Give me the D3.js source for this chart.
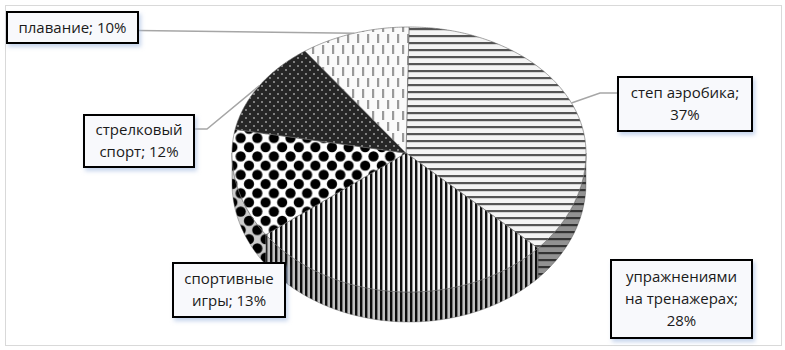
<!DOCTYPE html>
<html>
<head>
<meta charset="utf-8">
<script src="https://cdn.jsdelivr.net/npm/d3@7"></script>
<style>
  body { margin: 0; background: #fff; }
  svg { display: block; }
  text { font-family: "Open Sans", "Noto Sans", sans-serif; font-size: 15px; fill: #1a1a1a; }
</style>
</head>
<body>
<svg width="785" height="350"></svg>
<script>
// данные диаграммы
const categories = ["степ аэробика", "упражнениями на тренажерах", "спортивные игры", "стрелковый спорт", "плавание"];
const values = [37, 28, 13, 12, 10];
const labelLines = [
    ["степ аэробика;", "37%"],
    ["упражнениями", "на тренажерах;", "28%"],
    ["спортивные", "игры; 13%"],
    ["стрелковый", "спорт; 12%"],
    ["плавание; 10%"]
];
const patternIds = ["hstripe", "vstripe", "diamond", "darkdots", "dashes"];

// раскладка подписей (рамка и выноска)
const labelBoxes = [
    { x: 618, y: 77, w: 134, h: 54, leader: true },
    { x: 611, y: 260, w: 141, h: 78, leader: false },
    { x: 173, y: 263, w: 112, h: 54, leader: false },
    { x: 84, y: 115, w: 110, h: 52, leader: true },
    { x: 7, y: 12, w: 131, h: 31, leader: true }
];

const svg = d3.select("svg");
const depth = 30;

// шкалы проекции эллипса
const scX = d3.scaleLinear().domain([-1, 1]).range([232, 586]);
const scY = d3.scaleLinear().domain([-1, 0, 1]).range([27, 153, 292]);

const rimX = a => scX(Math.sin(a));
const rimY = a => scY(-Math.cos(a));

const defs = svg.append("defs");

// узоры
let p = defs.append("pattern").attr("id", "hstripe").attr("patternUnits", "userSpaceOnUse")
    .attr("width", 8).attr("height", 7);
p.append("rect").attr("width", 8).attr("height", 7).attr("fill", "#f4f4f4");
p.append("rect").attr("y", 0).attr("width", 8).attr("height", 2.2).attr("fill", "#555");

p = defs.append("pattern").attr("id", "vstripe").attr("patternUnits", "userSpaceOnUse")
    .attr("width", 5).attr("height", 8);
p.append("rect").attr("width", 5).attr("height", 8).attr("fill", "#f2f2f2");
p.append("rect").attr("x", 0).attr("width", 2.4).attr("height", 8).attr("fill", "#111");

const dw = 16.6, dh = 18.4;
p = defs.append("pattern").attr("id", "diamond").attr("patternUnits", "userSpaceOnUse")
    .attr("width", dw).attr("height", dh);
p.append("rect").attr("width", dw).attr("height", dh).attr("fill", "#fff");
[[0, 0], [dw, 0], [0, dh], [dw, dh], [dw / 2, dh / 2]].forEach(([x, y]) => {
    p.append("circle").attr("cx", x).attr("cy", y).attr("r", 5.1).attr("fill", "#000");
});

p = defs.append("pattern").attr("id", "darkdots").attr("patternUnits", "userSpaceOnUse")
    .attr("width", 8).attr("height", 8);
p.append("rect").attr("width", 8).attr("height", 8).attr("fill", "#262626");
p.append("rect").attr("x", 1).attr("y", 1).attr("width", 2).attr("height", 2).attr("fill", "#7f7f7f");
p.append("rect").attr("x", 5).attr("y", 5).attr("width", 2).attr("height", 2).attr("fill", "#7f7f7f");

p = defs.append("pattern").attr("id", "dashes").attr("patternUnits", "userSpaceOnUse")
    .attr("width", 10).attr("height", 22);
p.append("rect").attr("width", 10).attr("height", 22).attr("fill", "#fafafa");
p.append("rect").attr("x", 2).attr("y", 1).attr("width", 2.2).attr("height", 9).attr("fill", "#999");
p.append("rect").attr("x", 7).attr("y", 12).attr("width", 2.2).attr("height", 9).attr("fill", "#999");

// тень у подписей
const f = defs.append("filter").attr("id", "shadow")
    .attr("x", "-20%").attr("y", "-20%").attr("width", "150%").attr("height", "160%");
f.append("feDropShadow").attr("dx", 2).attr("dy", 3).attr("stdDeviation", 2)
    .attr("flood-color", "#9fb8e0").attr("flood-opacity", 0.6);

// рамка области диаграммы
svg.append("rect")
    .attr("x", 5.5).attr("y", 5.5).attr("width", 776).attr("height", 340)
    .attr("fill", "none").attr("stroke", "#d9d9d9");

const arcs = d3.pie().sort(null).value(d => d)(values);

function rimPoints(a0, a1, dy = 0) {
    const n = Math.max(2, Math.ceil((a1 - a0) / 0.01));
    return d3.range(n + 1).map(i => {
        const a = a0 + (a1 - a0) * i / n;
        return [rimX(a), rimY(a) + dy];
    });
}

const line = d3.line();

// боковые стенки (видна только передняя половина)
const wallG = svg.append("g");
arcs.forEach((d, i) => {
    const a0 = Math.max(d.startAngle, Math.PI / 2);
    const a1 = Math.min(d.endAngle, Math.PI * 1.5);
    if (a1 <= a0) return;
    const pts = rimPoints(a0, a1).concat(rimPoints(a0, a1, depth).reverse());
    wallG.append("path").attr("d", line(pts) + "Z")
        .attr("fill", `url(#${patternIds[i]})`)
        .attr("stroke", "#777").attr("stroke-width", 0.5);
    wallG.append("path").attr("d", line(pts) + "Z")
        .attr("fill", "#000").attr("fill-opacity", i === 0 ? 0.4 : 0.2);
});

// верхняя грань
const topG = svg.append("g");
const cx = scX(0) - 3, cy = scY(0);
arcs.forEach((d, i) => {
    const pts = [[cx, cy]].concat(rimPoints(d.startAngle, d.endAngle));
    topG.append("path").attr("d", line(pts) + "Z")
        .attr("fill", `url(#${patternIds[i]})`)
        .attr("stroke", "#666").attr("stroke-width", 0.6);
});

// выноски
const leaderG = svg.append("g");
arcs.forEach((d, i) => {
    const b = labelBoxes[i];
    if (!b.leader) return;
    const mid = (d.startAngle + d.endAngle) / 2;
    const ex = rimX(mid), ey = rimY(mid);
    let pts;
    if (ex < b.x) {
        const y0 = b.y + 16;
        pts = [[b.x, y0], [b.x - 18, y0], [ex, ey]];
    } else if (b.h > 40) {
        const y0 = b.y + 14;
        pts = [[b.x + b.w, y0], [b.x + b.w + 13, y0], [ex, ey]];
    } else {
        const y0 = b.y + b.h / 2 + 3;
        pts = [[b.x + b.w, y0], [ex, ey]];
    }
    leaderG.append("path").attr("d", line(pts))
        .attr("fill", "none").attr("stroke", "#a6a6a6").attr("stroke-width", 1.5);
});

// подписи
const labG = svg.append("g");
labelLines.forEach((lines, i) => {
    const b = labelBoxes[i];
    const g = labG.append("g");
    g.append("rect")
        .attr("x", b.x).attr("y", b.y).attr("width", b.w).attr("height", b.h)
        .attr("fill", "#f8f9fc").attr("stroke", "#000").attr("stroke-width", 2)
        .attr("filter", "url(#shadow)");
    const lh = 22;
    const y0 = b.y + b.h / 2 - (lines.length - 1) * lh / 2;
    lines.forEach((t, k) => {
        g.append("text")
            .attr("x", b.x + b.w / 2)
            .attr("y", y0 + k * lh)
            .attr("dy", "0.35em")
            .attr("text-anchor", "middle")
            .text(t);
    });
});
</script>
</body>
</html>
